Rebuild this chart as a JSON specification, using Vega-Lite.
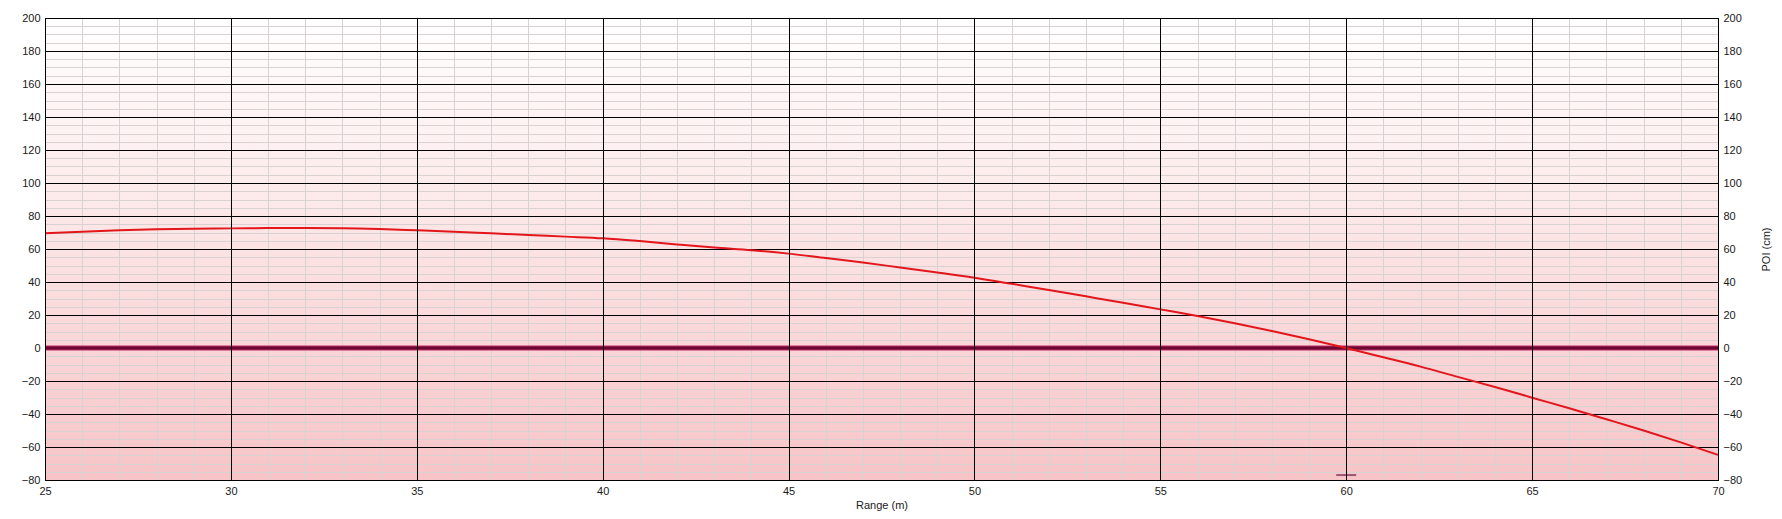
{
  "$schema": "https://vega.github.io/schema/vega-lite/v6.json",
  "width": 1673,
  "height": 462,
  "autosize": {"type": "none"},
  "padding": {"left": 45, "top": 18, "right": 64, "bottom": 39},
  "background": "white",
  "config": {
    "view": {
      "stroke": "black",
      "strokeWidth": 1,
      "fill": {"gradient": "linear", "x1": 0, "y1": 0, "x2": 0, "y2": 1,
        "stops": [{"offset": 0, "color": "#ffffff"}, {"offset": 0.35, "color": "#fdecec"}, {"offset": 1, "color": "#f7c4c7"}]}
    },
    "font": "Liberation Sans",
    "axis": {
      "labelFont": "Liberation Sans", "labelFontSize": 11, "labelColor": "#1a1a1a",
      "titleFont": "Liberation Sans", "titleFontSize": 11, "titleFontWeight": "normal", "titleColor": "#1a1a1a",
      "ticks": false, "domainColor": "#000000", "domainWidth": 1
    }
  },
  "datasets": {
    "traj": [
      {"range": 25, "poi": 69.5}, {"range": 26, "poi": 70.5}, {"range": 27, "poi": 71.3}, {"range": 28, "poi": 71.9},
      {"range": 29, "poi": 72.3}, {"range": 30, "poi": 72.5}, {"range": 31, "poi": 72.7}, {"range": 32, "poi": 72.7},
      {"range": 33, "poi": 72.6}, {"range": 34, "poi": 72.1}, {"range": 35, "poi": 71.3}, {"range": 36, "poi": 70.5},
      {"range": 37, "poi": 69.5}, {"range": 38, "poi": 68.5}, {"range": 39, "poi": 67.5}, {"range": 40, "poi": 66.5},
      {"range": 41, "poi": 64.8}, {"range": 42, "poi": 62.8}, {"range": 43, "poi": 60.9}, {"range": 44, "poi": 59.3},
      {"range": 45, "poi": 57.2}, {"range": 46, "poi": 54.5}, {"range": 47, "poi": 51.8}, {"range": 48, "poi": 48.8},
      {"range": 49, "poi": 45.8}, {"range": 50, "poi": 42.6}, {"range": 51, "poi": 38.9}, {"range": 52, "poi": 35.2},
      {"range": 53, "poi": 31.3}, {"range": 54, "poi": 27.4}, {"range": 55, "poi": 23.4}, {"range": 56, "poi": 19.4},
      {"range": 57, "poi": 15.0}, {"range": 58, "poi": 10.3}, {"range": 59, "poi": 5.3}, {"range": 60, "poi": 0},
      {"range": 61, "poi": -5.6}, {"range": 62, "poi": -11.3}, {"range": 63, "poi": -17.5}, {"range": 64, "poi": -23.6},
      {"range": 65, "poi": -30.1}, {"range": 66, "poi": -36.5}, {"range": 67, "poi": -43.2}, {"range": 68, "poi": -50.0},
      {"range": 69, "poi": -57.2}, {"range": 70, "poi": -64.8}
    ],
    "zero": [{"poi": 0}],
    "marker": [{"range": 60, "poi": -77}]
  },
  "layer": [
    {
      "data": {"name": "zero"},
      "mark": {"type": "rule", "color": "#c2296b", "strokeWidth": 5},
      "encoding": {
        "y": {
          "field": "poi", "type": "quantitative",
          "scale": {"domain": [-80, 200], "nice": false, "zero": false},
          "axis": {
            "orient": "right", "title": "POI (cm)", "titleAngle": -90, "titlePadding": 30,
            "values": [-80,-60,-40,-20,0,20,40,60,80,100,120,140,160,180,200],
            "grid": false, "labelPadding": 5, "labelFlush": false, "labelBound": false, "labelOverlap": false
          }
        }
      }
    },
    {
      "data": {"name": "zero"},
      "mark": {"type": "rule", "color": "#6b0a30", "strokeWidth": 3},
      "encoding": {"y": {"field": "poi", "type": "quantitative", "axis": null}}
    },
    {
      "data": {"name": "traj"},
      "mark": {"type": "line", "color": "#e3161c", "strokeWidth": 2, "interpolate": "monotone"},
      "encoding": {
        "x": {
          "field": "range", "type": "quantitative",
          "scale": {"domain": [25, 70], "nice": false, "zero": false},
          "axis": {
            "orient": "bottom", "title": null, "labels": false, "domain": false,
            "values": [26,27,28,29,31,32,33,34,36,37,38,39,41,42,43,44,46,47,48,49,51,52,53,54,56,57,58,59,61,62,63,64,66,67,68,69],
            "grid": true, "gridColor": "#d9d2d3", "gridWidth": 1
          }
        },
        "y": {
          "field": "poi", "type": "quantitative",
          "axis": {
            "title": null, "orient": "left",
            "values": [-80,-75,-70,-65,-60,-55,-50,-45,-40,-35,-30,-25,-20,-15,-10,-5,0,5,10,15,20,25,30,35,40,45,50,55,60,65,70,75,80,85,90,95,100,105,110,115,120,125,130,135,140,145,150,155,160,165,170,175,180,185,190,195,200],
            "labelExpr": "datum.value % 20 === 0 ? datum.label : ''",
            "labelOverlap": false, "labelBound": false, "labelFlush": false,
            "labelPadding": 5,
            "grid": true,
            "gridColor": {"condition": {"test": "datum.value % 20 === 0", "value": "#000000"}, "value": "#d9d2d3"},
            "gridWidth": 1
          }
        }
      }
    },
    {
      "data": {"name": "marker"},
      "mark": {"type": "tick", "orient": "horizontal", "color": "#7a2352", "size": 20, "thickness": 2},
      "encoding": {
        "x": {
          "field": "range", "type": "quantitative",
          "axis": {
            "orient": "bottom", "title": "Range (m)", "zindex": 1,
            "values": [25,30,35,40,45,50,55,60,65,70],
            "labelOverlap": false, "labelFlush": false, "labelBound": false,
            "labelPadding": 5, "titlePadding": 3,
            "grid": true, "gridColor": "#000000", "gridWidth": 1
          }
        },
        "y": {"field": "poi", "type": "quantitative", "axis": null}
      }
    }
  ],
  "resolve": {"axis": {"y": "independent", "x": "independent"}}
}
